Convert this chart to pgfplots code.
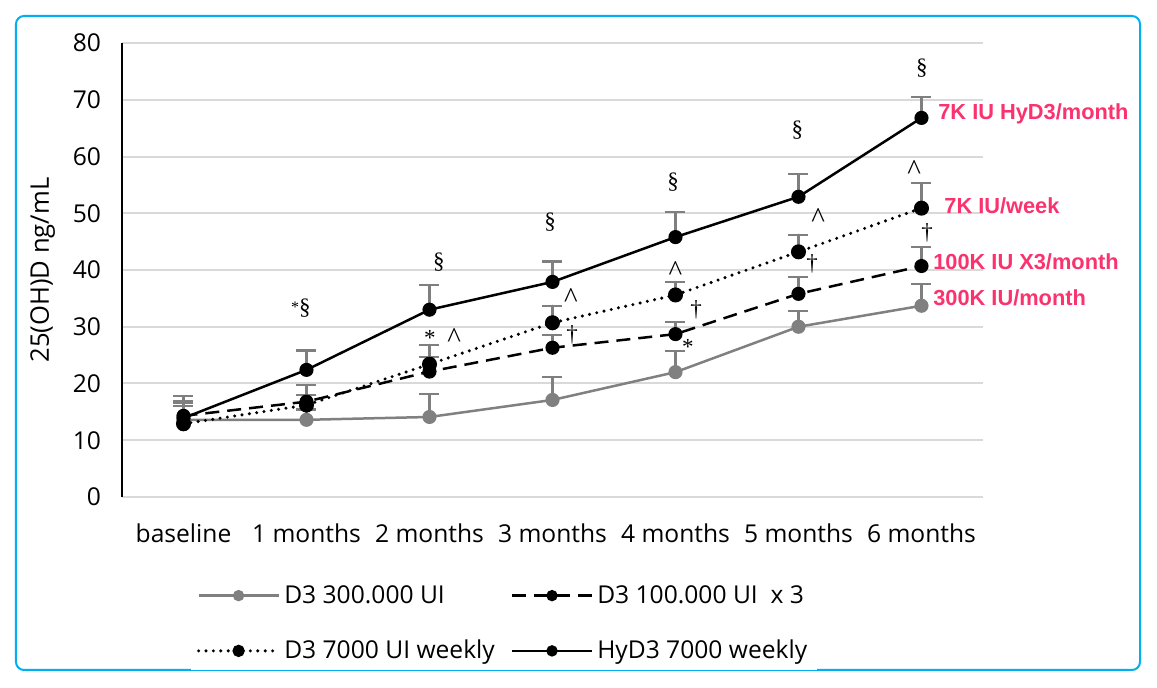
\documentclass[border=0pt]{standalone}
\usepackage{pgfplots}
\pgfplotsset{compat=1.18}
\usepackage{fontspec}
\setmainfont{Open Sans}
\newfontfamily\symfont{Liberation Serif}
\newfontfamily\lblfont{Liberation Sans}
\definecolor{frameblue}{RGB}{0,176,240}
\definecolor{errgray}{RGB}{127,127,127}
\definecolor{seriesgray}{RGB}{128,128,128}
\definecolor{gridgray}{RGB}{217,217,217}
\definecolor{labelpink}{RGB}{250,50,110}

\begin{document}
\begin{tikzpicture}
% page size and outer frame
\path (-61pt,-95.5pt) rectangle (517.5pt,248.5pt);
\draw[frameblue, line width=1pt, rounded corners=4pt] (-53pt,-86.5pt) rectangle (509pt,240.5pt);
\begin{axis}[
    scale only axis,
    width=430.5pt, height=227pt,
    xmin=-0.5, xmax=6.5,
    ymin=0, ymax=80,
    xtick={0,...,6},
    xticklabels={baseline, 1 months, 2 months, 3 months, 4 months, 5 months, 6 months},
    ytick={0,10,...,80},
    axis x line*=bottom, axis y line*=left,
    x axis line style={draw=none},
    y axis line style={black, line width=1pt, -},
    major tick length=0pt,
    ymajorgrids,
    grid style={gridgray, line width=1pt},
    tick label style={font=\fontsize{12.3}{14}\selectfont},
    /pgf/number format/assume math mode=true,
    yticklabel style={xshift=-7pt},
    xticklabel style={yshift=-10pt},
    ylabel={25(OH)D ng/mL},
    ylabel style={at={(axis description cs:-0.092,0.5)}, anchor=center, font=\fontsize{12.8}{14}\selectfont},
    clip=false,
    legend columns=2,
    legend style={at={(0.4437,-0.2786)}, anchor=center, draw=none,
        font=\fontsize{12.3}{14}\selectfont, row sep=13pt,
        /tikz/every even column/.append style={column sep=6pt}},
    legend cell align=left,
    legend image code/.code={\draw[mark repeat=2, mark phase=2, mark size=2.2pt] plot coordinates {(0pt,0pt) (20pt,0pt) (40pt,0pt)};},
    every axis plot/.append style={line width=1.25pt},
    error bars/error bar style={solid, errgray, line width=1.1pt},
    error bars/error mark options={solid, errgray, line width=1.1pt, mark size=5pt, rotate=90},
]
% D3 300.000 UI
\addplot[seriesgray, mark=*, mark size=2.9pt, mark options={solid, fill=seriesgray},
    error bars/.cd, y dir=plus, y explicit]
coordinates {(0,13.6) +- (0,2.4) (1,13.6) +- (0,1.8) (2,14.1) +- (0,4.0) (3,17.1) +- (0,4.1)
             (4,22.0) +- (0,3.7) (5,30.0) +- (0,2.8) (6,33.7) +- (0,3.8)};
% D3 100.000 UI x 3
\addplot[black, dash pattern=on 7pt off 4pt, mark=*, mark size=2.9pt, mark options={solid, fill=black},
    error bars/.cd, y dir=plus, y explicit]
coordinates {(0,14.3) +- (0,3.5) (1,16.8) +- (0,2.9) (2,22.1) +- (0,2.6) (3,26.3) +- (0,2.2)
             (4,28.7) +- (0,2.1) (5,35.8) +- (0,3.0) (6,40.7) +- (0,3.4)};
% D3 7000 UI weekly
\addplot[black, line width=1.7pt, line cap=round, dash pattern=on 0pt off 3.7pt, mark=*, mark size=2.9pt, mark options={solid, fill=black},
    error bars/.cd, y dir=plus, y explicit]
coordinates {(0,12.9) +- (0,4.0) (1,16.2) +- (0,1.8) (2,23.4) +- (0,3.4) (3,30.7) +- (0,3.0)
             (4,35.6) +- (0,2.3) (5,43.2) +- (0,3.0) (6,50.9) +- (0,4.4)};
% HyD3 7000 weekly
\addplot[black, mark=*, mark size=2.9pt, mark options={solid, fill=black},
    error bars/.cd, y dir=plus, y explicit]
coordinates {(0,13.9) +- (0,2.6) (1,22.4) +- (0,3.4) (2,33.0) +- (0,4.4) (3,37.9) +- (0,3.6)
             (4,45.8) +- (0,4.4) (5,52.9) +- (0,4.0) (6,66.8) +- (0,3.7)};
\legend{D3 300.000 UI, D3 100.000 UI\ \ x 3, D3 7000 UI weekly, HyD3 7000 weekly}

% significance marks
\begin{scope}[every node/.style={font=\symfont\fontsize{11.5}{12}\selectfont, inner sep=0pt}]
\node at (axis cs:0.955,33.3) {\raisebox{0.1em}{\fontsize{8}{8}\selectfont *}§};
\node at (axis cs:2.077,41.4) {§};
\node at (axis cs:2.004,28.0) {*};
\node at (axis cs:2.98,48.5) {§};
\node at (axis cs:3.16,28.5) {†};
\node at (axis cs:3.98,55.5) {§};
\node at (axis cs:4.167,33.0) {†};
\node at (axis cs:4.10,26.5) {*};
\node at (axis cs:4.99,64.7) {§};
\node at (axis cs:5.11,41.1) {†};
\node at (axis cs:6.004,75.6) {§};
\node at (axis cs:6.045,46.5) {†};
\end{scope}
\begin{scope}[every node/.style={font=\symfont\fontsize{14.5}{15}\selectfont, inner sep=0pt}]
\node at (axis cs:2.20,28.1) {\textasciicircum};
\node at (axis cs:3.15,35.1) {\textasciicircum};
\node at (axis cs:4.00,39.9) {\textasciicircum};
\node at (axis cs:5.16,49.2) {\textasciicircum};
\node at (axis cs:5.94,57.7) {\textasciicircum};
\end{scope}

% series labels
\begin{scope}[every node/.style={font=\lblfont\bfseries\fontsize{10.9}{12}\selectfont, text=labelpink, anchor=west, inner sep=0pt}]
\node at (axis cs:6.134,67.5) {7K IU HyD3/month};
\node at (axis cs:6.183,51.3) {7K IU/week};
\node at (axis cs:6.093,41.4) {100K IU X3/month};
\node at (axis cs:6.093,35.1) {300K IU/month};
\end{scope}
\end{axis}
\end{tikzpicture}
\end{document}
